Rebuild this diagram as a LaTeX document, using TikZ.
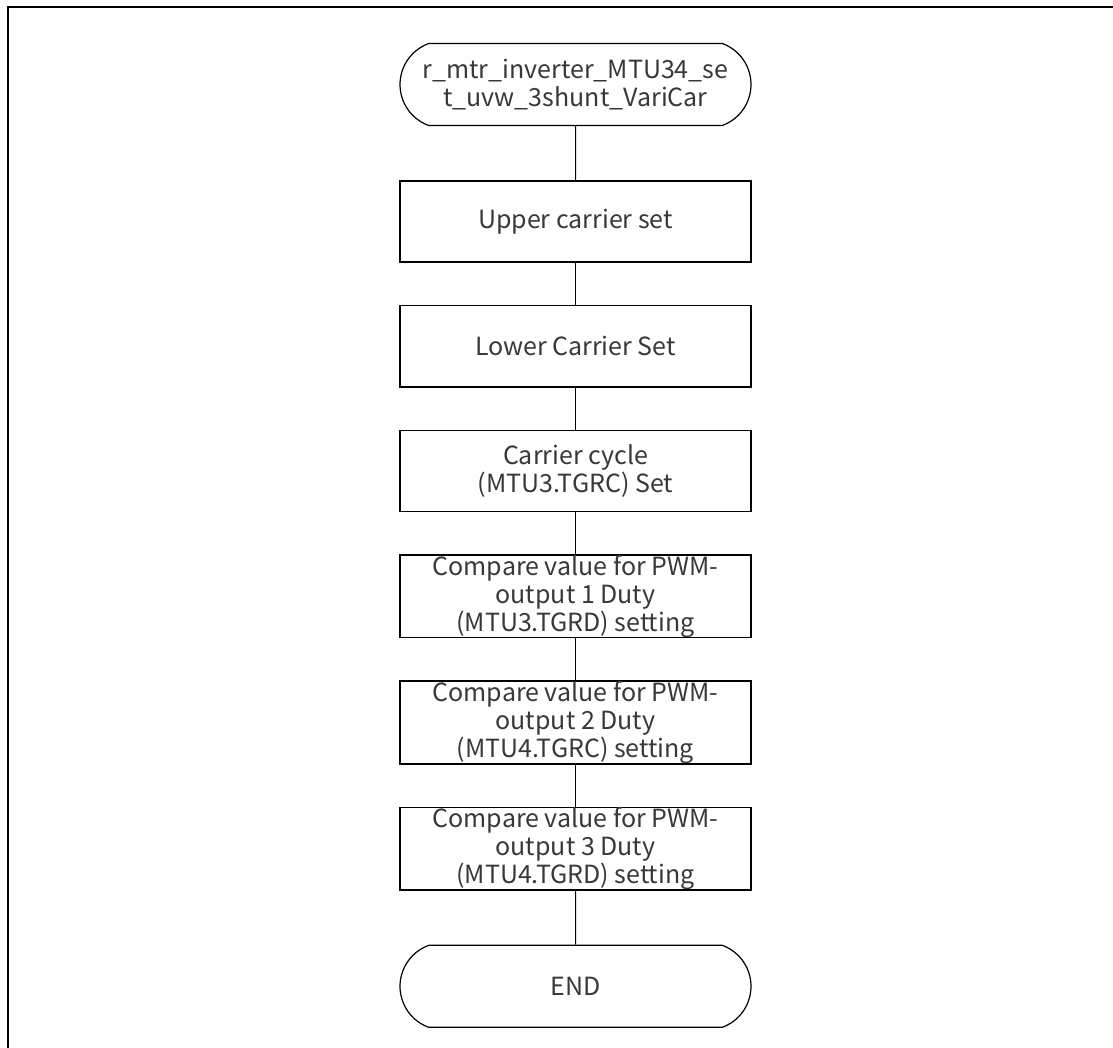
\documentclass[tikz,border=0pt]{standalone}
\usepackage{fontspec}
\setmainfont{Noto Sans CJK JP}
\usetikzlibrary{positioning,shapes.misc}

\begin{document}
\begin{tikzpicture}[x=1pt,y=1pt,node distance=42pt,
every node/.style={align=center,text=black!78,font=\fontsize{25}{28}\selectfont,inner sep=0pt},
stepbox/.style={draw,line width=1.7pt,minimum width=351pt,minimum height=81pt},
term/.style={draw,rounded rectangle,rounded rectangle arc length=140,line width=1.2pt,minimum width=351pt,minimum height=82pt},
link/.style={line width=1pt}]
\useasboundingbox (0,0) rectangle (1113,-1048);
\draw[line width=2pt] (8,-1050) -- (8,-7) -- (1115,-7);
\node[term] (start) at (575.5,-84.5) {r\_mtr\_inverter\_MTU34\_se\\t\_uvw\_3shunt\_VariCar};
\node[stepbox,below=54pt of start] (upper) {Upper carrier set};
\node[stepbox,below=of upper] (lower) {Lower Carrier Set};
\node[stepbox,below=of lower] (cycle) {Carrier cycle\\(MTU3.TGRC) Set};
\node[stepbox,below=of cycle] (duty1) {Compare value for PWM-\\output 1 Duty\\(MTU3.TGRD) setting};
\node[stepbox,below=of duty1] (duty2) {Compare value for PWM-\\output 2 Duty\\(MTU4.TGRC) setting};
\node[stepbox,below=of duty2] (duty3) {Compare value for PWM-\\output 3 Duty\\(MTU4.TGRD) setting};
\node[term,below=54pt of duty3] (end) {END};
\draw[link] (start)--(upper);\draw[link] (upper)--(lower);\draw[link] (lower)--(cycle);
\draw[link] (cycle)--(duty1);\draw[link] (duty1)--(duty2);\draw[link] (duty2)--(duty3);
\draw[link] (duty3)--(end);
\end{tikzpicture}
\end{document}
